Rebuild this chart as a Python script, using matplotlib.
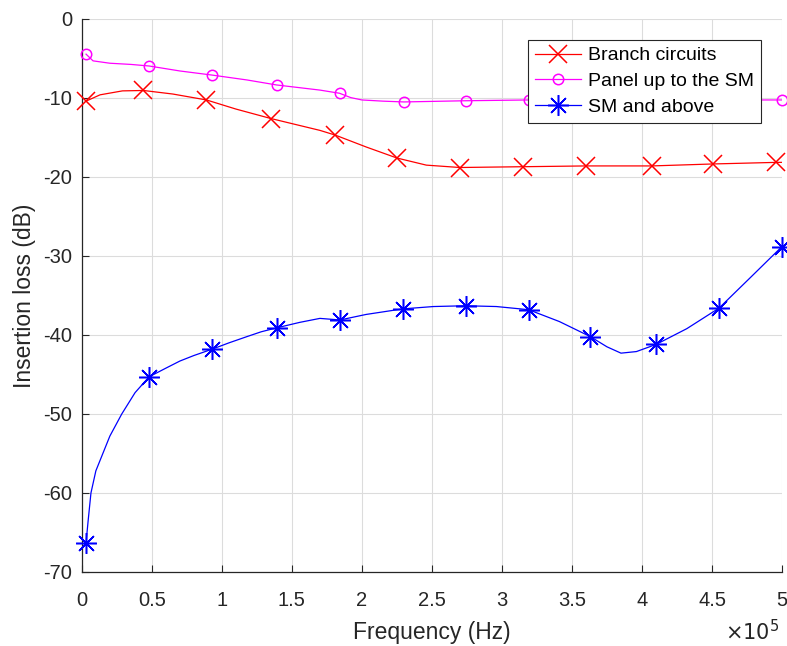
import numpy as np
import matplotlib
matplotlib.use("Agg")
import matplotlib.pyplot as plt
from matplotlib.ticker import FuncFormatter
from matplotlib.legend_handler import HandlerTuple

plt.rcParams['font.family'] = ['Liberation Sans', 'DejaVu Sans']
plt.rcParams['axes.unicode_minus'] = False

# frequencies in units of 1e5 Hz, values in dB
branch_f = [0.03, 0.13, 0.29, 0.44, 0.65, 0.89, 1.10, 1.35, 1.56, 1.70, 1.81,
            2.03, 2.25, 2.46, 2.70, 2.92, 3.15, 3.60, 4.07, 4.51, 4.96, 5.00]
branch_db = [-10.4, -9.6, -9.1, -9.05, -9.5, -10.25, -11.4, -12.6, -13.5, -14.1, -14.7,
             -16.2, -17.6, -18.5, -18.8, -18.75, -18.7, -18.6, -18.6, -18.35, -18.15, -18.15]
branch_mark_f = [0.03, 0.44, 0.89, 1.35, 1.81, 2.25, 2.70, 3.15, 3.60, 4.07, 4.51, 4.96]
branch_mark_db = [-10.4, -9.05, -10.25, -12.6, -14.7, -17.6, -18.8, -18.7, -18.6, -18.6, -18.35, -18.15]

panel_f = [0.03, 0.08, 0.20, 0.35, 0.48, 0.70, 0.93, 1.18, 1.39, 1.70, 1.84,
           1.92, 2.00, 2.15, 2.30, 2.74, 3.19, 3.63, 4.10, 4.55, 5.00]
panel_db = [-4.45, -5.3, -5.6, -5.75, -5.95, -6.58, -7.1, -7.72, -8.35, -9.0, -9.4,
            -9.95, -10.25, -10.4, -10.5, -10.35, -10.25, -10.3, -10.3, -10.25, -10.25]
panel_mark_f = [0.03, 0.48, 0.93, 1.39, 1.84, 2.30, 2.74, 3.19, 3.63, 4.10, 4.55, 5.00]
panel_mark_db = [-4.45, -5.95, -7.1, -8.35, -9.4, -10.5, -10.35, -10.25, -10.3, -10.3, -10.25, -10.25]

sm_f = [0.03, 0.045, 0.065, 0.10, 0.15, 0.20, 0.285, 0.38, 0.48, 0.60, 0.70, 0.80,
        0.93, 1.05, 1.18, 1.28, 1.39, 1.557, 1.70, 1.843, 2.03, 2.29, 2.51, 2.74,
        2.96, 3.19, 3.41, 3.63, 3.75, 3.85, 3.96, 4.10, 4.32, 4.55, 4.77, 5.00]
sm_db = [-66.3, -63.5, -60.0, -57.2, -55.0, -52.8, -50.0, -47.3, -45.3, -44.2, -43.3, -42.6,
         -41.8, -41.0, -40.2, -39.6, -39.1, -38.4, -37.9, -38.1, -37.4, -36.7, -36.4, -36.3,
         -36.4, -36.8, -38.3, -40.2, -41.5, -42.3, -42.1, -41.2, -39.2, -36.6, -32.8, -28.8]
sm_mark_f = [0.03, 0.48, 0.93, 1.39, 1.843, 2.29, 2.74, 3.19, 3.63, 4.10, 4.55, 5.00]
sm_mark_db = [-66.3, -45.3, -41.8, -39.1, -38.1, -36.7, -36.3, -36.8, -40.2, -41.2, -36.6, -28.8]

labels = ['Branch circuits', 'Panel up to the SM', 'SM and above']

fig = plt.figure(figsize=(7.87, 6.46), dpi=100)
ax = fig.add_axes([0.104, 0.1146, 0.8897, 0.856])

asterisk = (8, 2, 0)
series = [
    (branch_f, branch_db, branch_mark_f, branch_mark_db, '#ff0000', 'x', 13),
    (panel_f, panel_db, panel_mark_f, panel_mark_db, '#ff00ff', 'o', 7.5),
    (sm_f, sm_db, sm_mark_f, sm_mark_db, '#0000ff', asterisk, 15),
]
handles = []
for f, db, mf, mdb, col, mk, ms in series:
    ln, = ax.plot(np.array(f) * 1e5, db, color=col, lw=0.9, zorder=3)
    mkl, = ax.plot(np.array(mf) * 1e5, mdb, linestyle='none', marker=mk, ms=ms,
                   mec=col, mfc='none', mew=1.1, zorder=4, clip_on=False)
    handles.append((ln, mkl))

ax.set_xlim(0, 5e5)
ax.set_ylim(-70, 0)
ax.set_xticks(np.arange(0, 5.01e5, 0.5e5))
ax.set_yticks(np.arange(-70, 1, 10))
ax.xaxis.set_major_formatter(FuncFormatter(lambda v, p: '%g' % (v / 1e5)))

ax.grid(True, color='#dcdcdc', lw=0.8)
ax.set_axisbelow(True)
for s in ['top', 'right']:
    ax.spines[s].set_visible(False)
for s in ['left', 'bottom']:
    ax.spines[s].set_color('#262626')
    ax.spines[s].set_linewidth(0.9)
ax.tick_params(direction='in', length=5, width=0.8, colors='#262626', labelsize=14.5)
ax.tick_params(axis='x', pad=13.5)
ax.tick_params(axis='y', pad=7)

ax.set_xlabel('Frequency (Hz)', fontsize=16.5, color='#262626', labelpad=8)
ax.set_ylabel('Insertion loss (dB)', fontsize=16.5, color='#262626', labelpad=5)
ax.annotate(r'$\times10^{5}$', xy=(1.0, 0), xycoords='axes fraction',
            xytext=(-2, -34), textcoords='offset points', ha='right', va='top',
            fontsize=15, color='#262626')

leg = ax.legend(handles, labels, loc='upper right', bbox_to_anchor=(0.97, 0.962),
                handler_map={tuple: HandlerTuple(ndivide=1, pad=0)},
                fontsize=14, handlelength=2.4, handletextpad=0.35, labelspacing=0.42,
                borderpad=0.35, borderaxespad=0, fancybox=False, framealpha=1,
                edgecolor='#262626')
leg.get_frame().set_linewidth(0.8)

fig.savefig('out.png', dpi=100)
